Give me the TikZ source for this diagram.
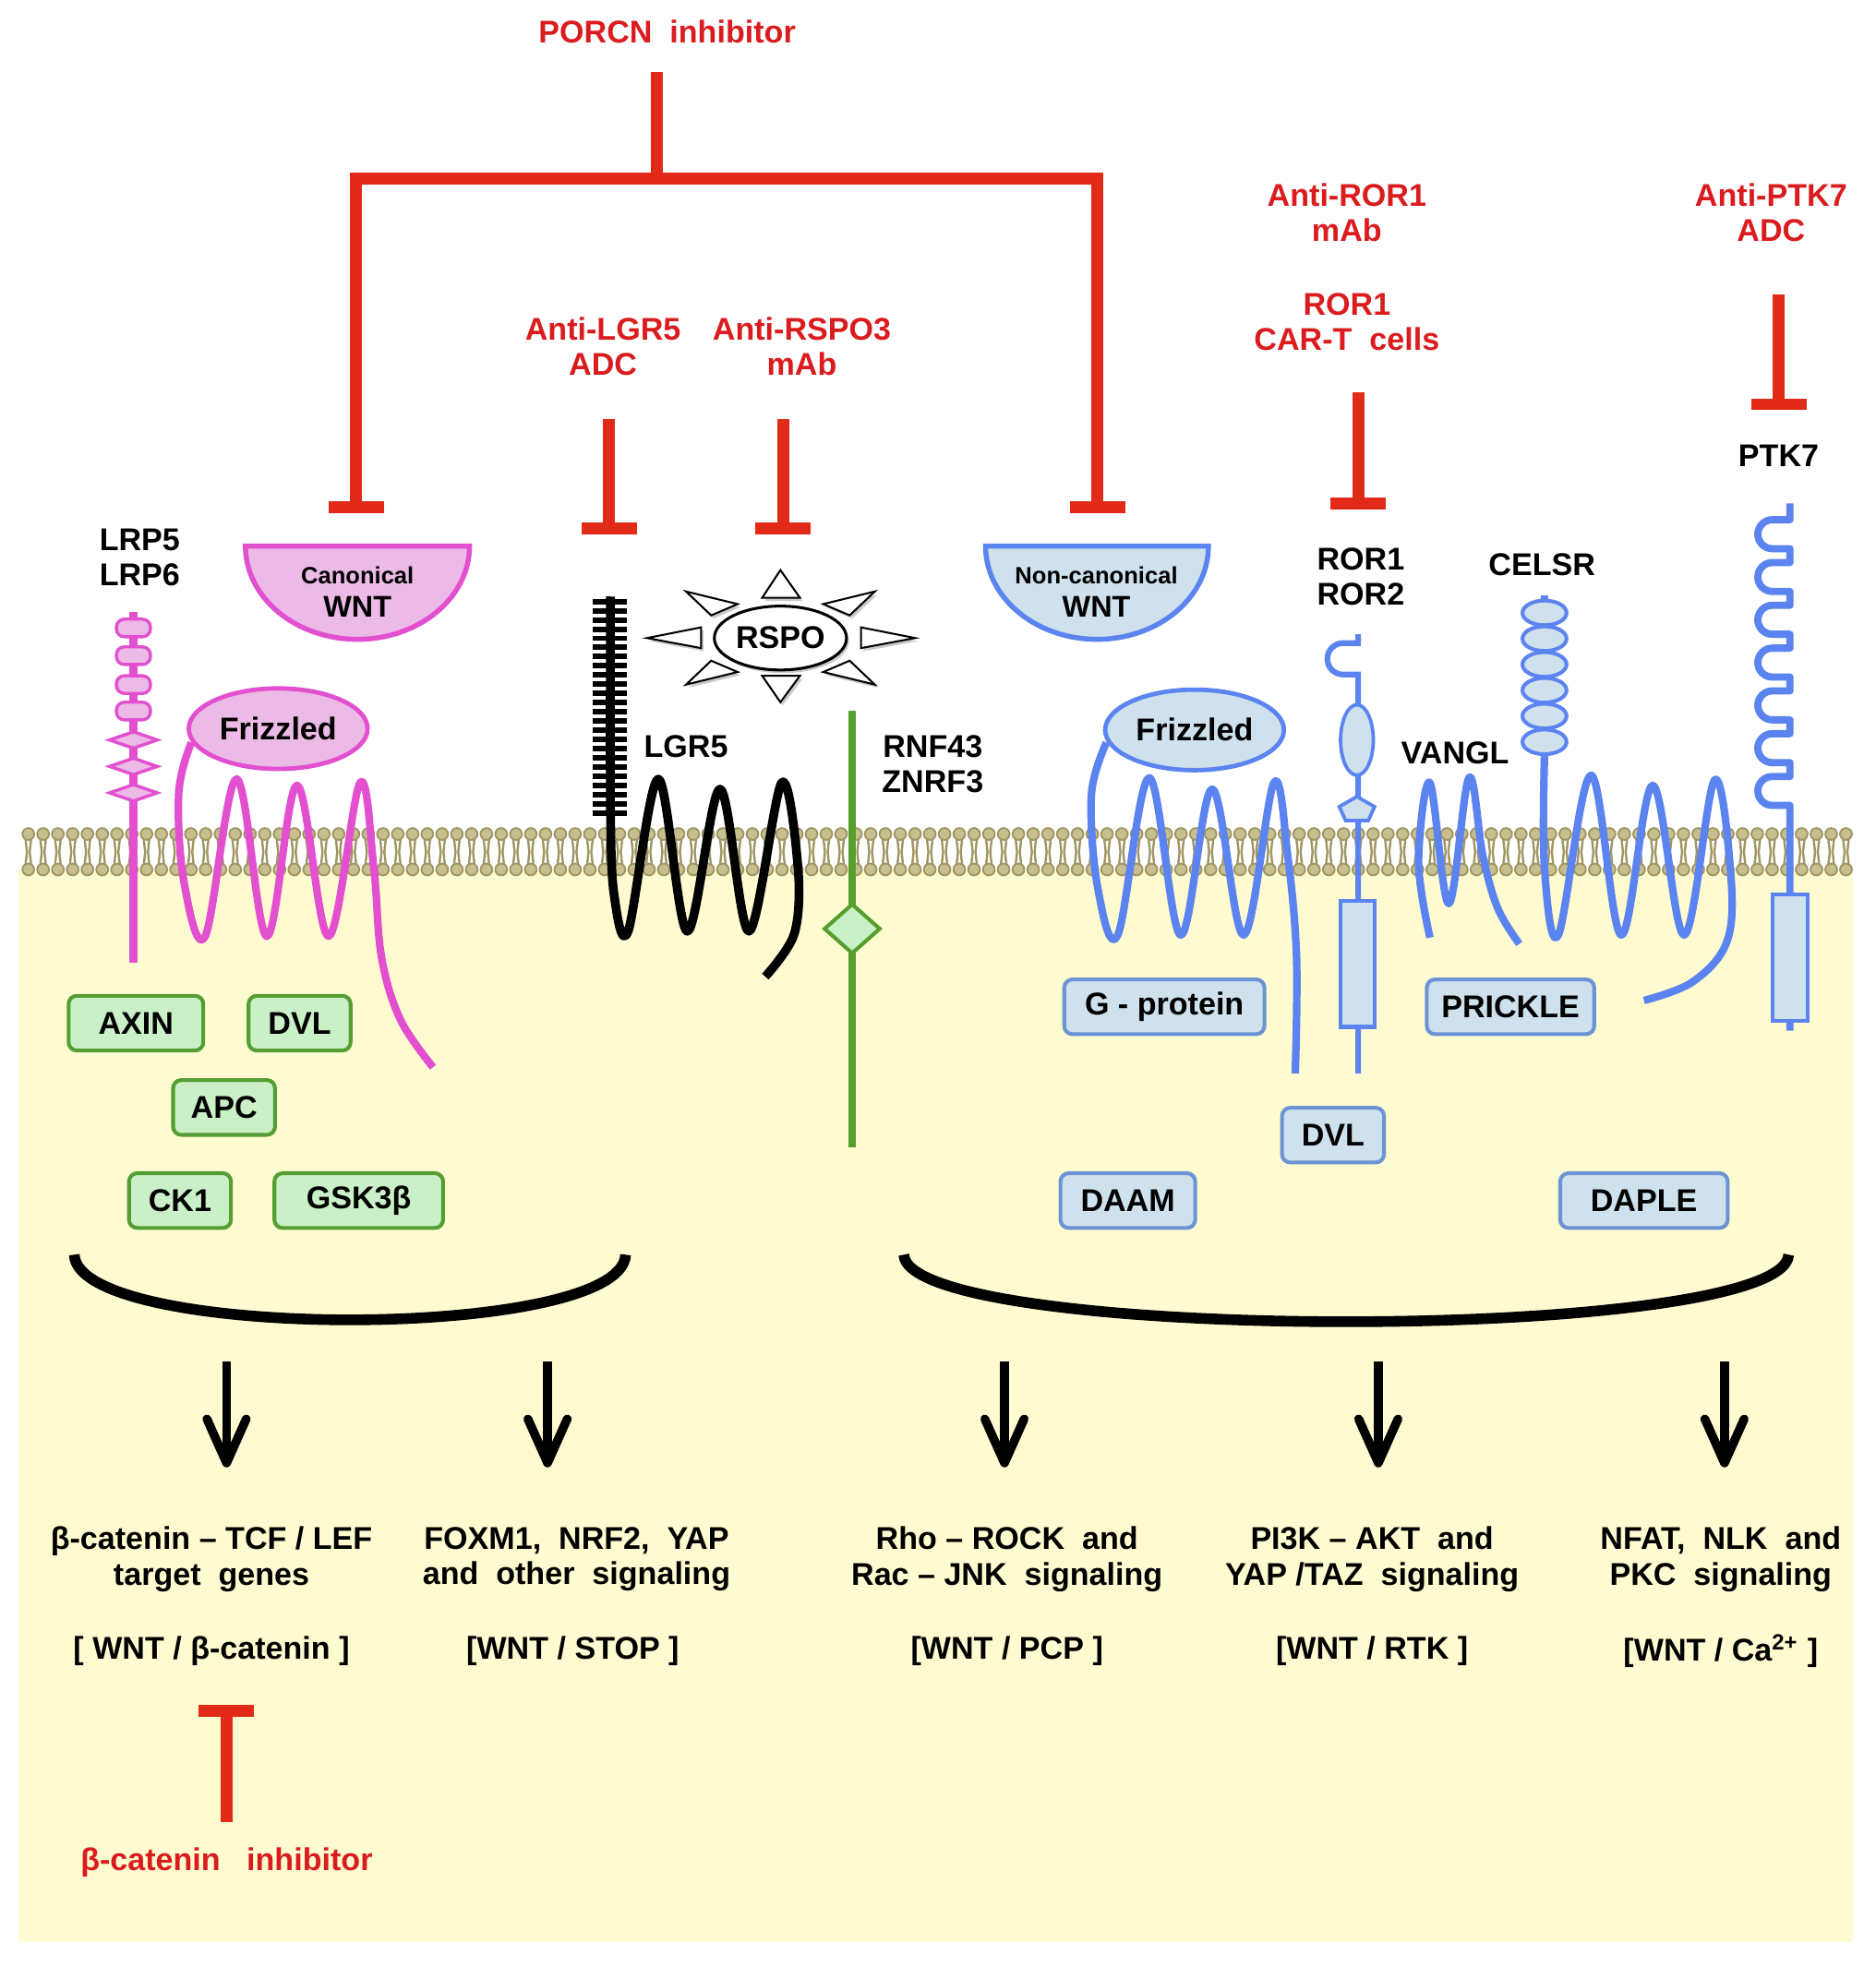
\documentclass[tikz,border=0pt]{standalone}
\usepackage{fontspec}
\setmainfont{Liberation Sans}
\usetikzlibrary{arrows.meta,shapes.geometric,shadows}

\definecolor{inhred}{RGB}{226,42,24}
\definecolor{txtred}{RGB}{218,28,30}
\definecolor{canmag}{RGB}{226,80,208}
\definecolor{canpink}{RGB}{236,186,230}
\definecolor{ncblue}{RGB}{92,132,240}
\definecolor{ncfill}{RGB}{206,225,236}
\definecolor{boxblue}{RGB}{108,148,212}
\definecolor{rnfgreen}{RGB}{86,158,46}
\definecolor{boxgreen}{RGB}{84,158,50}
\definecolor{greenfill}{RGB}{202,240,200}
\definecolor{cytoyellow}{RGB}{255,251,208}
\definecolor{lipidfill}{RGB}{200,191,142}
\definecolor{lipiddraw}{RGB}{160,150,100}

\tikzset{
  lbl/.style={font=\fontsize{10}{11.2}\selectfont\bfseries, align=center, inner sep=1pt},
  redlbl/.style={lbl, text=txtred},
  inhline/.style={draw=inhred, line width=3.8pt, line join=miter},
  inh/.style={inhline, -{Bar[width=17.6pt]}},
  canbox/.style={lbl, draw=boxgreen, fill=greenfill, line width=1.2pt, rounded corners=2.6pt,
    minimum height=17.4pt, minimum width=32.4pt},
  ncbox/.style={canbox, draw=boxblue, fill=ncfill},
  canline/.style={draw=canmag, line width=2.4pt, line join=round},
  ncline/.style={draw=ncblue, line width=2.4pt, line join=round},
  lgrline/.style={draw=black, line width=2.8pt, line join=round},
  spike/.style={draw=black, fill=white, line width=0.6pt,
    drop shadow={shadow xshift=0.8pt, shadow yshift=-1pt, fill=black!40, opacity=0.5}},
  bracket/.style={draw=black, line width=3.4pt},
  downarr/.style={draw=black, line width=2.8pt, -{Straight Barb[length=14pt, width=12.5pt, round]}},
}

\begin{document}
\begin{tikzpicture}[x=0.4pt, y=-0.4pt]
\useasboundingbox (0,0) rectangle (1490,1563);
\fill[white] (0,0) rectangle (1490,1563);
\fill[cytoyellow] (15,692) rectangle (1472,1543);

% membrane
\foreach \lx in {22.5,34.24,...,1467} {
  \draw[lipiddraw, line width=0.7pt] (\lx-2.3,666) -- (\lx-1.1,677) -- (\lx-2.3,688)
    (\lx+2.3,666) -- (\lx+1.1,677) -- (\lx+2.3,688);
  \filldraw[fill=lipidfill, draw=lipiddraw, line width=0.55pt]
    (\lx,662.7) circle[radius=4.7] (\lx,690.9) circle[radius=4.7];
}

% inhibitors
\node[redlbl] (porcn) at (530,25) {PORCN~~inhibitor};
\coordinate (porcnA) at (522,57);
\coordinate (porcnB) at (522,142);
\coordinate (canT) at (283,408);
\coordinate (ncT) at (872,408);
\draw[inhline] (porcnA) -- (porcnB);
\draw[inh] (porcnB) -| (canT);
\draw[inh] (porcnB) -| (ncT);

\node[redlbl] (antilgr) at (479,275) {Anti-LGR5\\ADC};
\coordinate (lgrA) at (484,333);
\coordinate (lgrT) at (484,425);
\draw[inh] (lgrA) -- (lgrT);

\node[redlbl] (antirspo) at (637,275) {Anti-RSPO3\\mAb};
\coordinate (rspoA) at (622,333);
\coordinate (rspoT) at (622,425);
\draw[inh] (rspoA) -- (rspoT);

\node[redlbl] (antiror) at (1070,169) {Anti-ROR1\\mAb};
\node[redlbl] (cart) at (1070,256) {ROR1\\CAR-T~~cells};
\coordinate (rorA) at (1079,312);
\coordinate (rorT) at (1079,405);
\draw[inh] (rorA) -- (rorT);

\node[redlbl] (antiptk) at (1407,169) {Anti-PTK7\\ADC};
\coordinate (ptkA) at (1413,234);
\coordinate (ptkT) at (1413,326);
\draw[inh] (ptkA) -- (ptkT);

\node[redlbl] (bcatinh) at (180,1480) {β-catenin~~~inhibitor};
\coordinate (bcatA) at (180,1448);
\coordinate (bcatT) at (180,1355);
\draw[inh] (bcatA) -- (bcatT);

% WNT ligands
\filldraw[fill=canpink, draw=canmag, line width=1.6pt]
  (195,434) -- (373,434) arc[start angle=0, end angle=180, x radius=89, y radius=74] -- cycle;
\node[lbl, font=\fontsize{7.5}{9}\selectfont\bfseries] (canname) at (284,457) {Canonical};
\node[lbl, font=\fontsize{9.5}{11}\selectfont\bfseries] (canwnt) at (284,482) {WNT};
\filldraw[fill=ncfill, draw=ncblue, line width=1.6pt]
  (783,434) -- (960,434) arc[start angle=0, end angle=180, x radius=88.5, y radius=74] -- cycle;
\node[lbl, font=\fontsize{7.5}{9}\selectfont\bfseries] (ncname) at (871,457) {Non-canonical};
\node[lbl, font=\fontsize{9.5}{11}\selectfont\bfseries] (ncwnt) at (871,482) {WNT};

% LRP5/6
\node[lbl] (lrp) at (111,443) {LRP5\\LRP6};
\draw[canmag, line width=2.4pt] (106,486) -- (106,765);
\foreach \y in {499,521,544,565}
  \filldraw[fill=canpink, draw=canmag, line width=1pt, rounded corners=2.5pt]
    (92.5,\y-7) rectangle (119.5,\y+7);
\foreach \y in {588,609,630}
  \filldraw[fill=canpink, draw=canmag, line width=1pt]
    (87,\y) -- (106,\y-6.5) -- (125,\y) -- (106,\y+6.5) -- cycle;

% canonical Frizzled
\draw[canline] plot[smooth, tension=0.6] coordinates {(152,590) (142,630) (146,700) (163,744)
  (188,619) (212,744) (236,624) (261,744) (286,622) (297,690) (303,760) (318,810) (344,848)};
\node[lbl, ellipse, draw=canmag, fill=canpink, line width=1.4pt, minimum width=56.8pt,
  minimum height=25.6pt] (fzdcan) at (221,579) {Frizzled};

% LGR5
\draw[lgrline] plot[smooth, tension=0.55] coordinates {(485,474) (485,645) (488,712) (499,740)
  (523,619) (546,740) (572,627) (595,740) (621,622) (634,690) (631,742) (608,776)};
\foreach \k in {0,...,23}
  \draw[black, line width=1.75pt] (471,478+7.3*\k) -- (498,478+7.3*\k);
\node[lbl] (lgr) at (545,593) {LGR5};

% RSPO
\draw[spike] (620,453) -- (635.5,475) -- (605.5,475) -- cycle;
\draw[spike] (620,558) -- (635.5,537) -- (605.5,537) -- cycle;
\draw[spike] (514,507) -- (557,498.5) -- (557,515) -- cycle;
\draw[spike] (727,507) -- (684,498.5) -- (684,515) -- cycle;
\draw[spike] (545,470) -- (586,480) -- (565,489) -- cycle;
\draw[spike] (695,470) -- (654,480) -- (675,489) -- cycle;
\draw[spike] (545,544) -- (586,534) -- (565,525) -- cycle;
\draw[spike] (695,544) -- (654,534) -- (675,525) -- cycle;
\node[lbl, ellipse, draw=black, fill=white, line width=0.9pt, minimum width=42pt,
  minimum height=20.3pt, inner sep=0pt,
  drop shadow={shadow xshift=0.8pt, shadow yshift=-1pt, fill=black!40, opacity=0.5}] (rspo) at (620,507) {RSPO};

% RNF43/ZNRF3
\draw[rnfgreen, line width=2.2pt] (677,565) -- (677,912);
\node[diamond, draw=rnfgreen, fill=greenfill, line width=1.2pt, minimum width=18pt,
  minimum height=16pt, inner sep=0pt] (rnfdom) at (677,738) {};
\node[lbl] (rnf) at (741,607) {RNF43\\ZNRF3};

% non-canonical Frizzled
\draw[ncline] plot[smooth, tension=0.6] coordinates {(879,590) (867,632) (872,705) (888,743)
  (913,618) (938,743) (963,627) (988,743) (1012,622) (1023,680) (1030,760) (1029,853)};
\node[lbl, ellipse, draw=ncblue, fill=ncfill, line width=1.4pt, minimum width=56.8pt,
  minimum height=25.6pt] (fzdnc) at (949,580) {Frizzled};

% ROR1/2
\node[lbl] (ror) at (1081,458) {ROR1\\ROR2};
\draw[ncblue, line width=1.8pt] (1079,504) -- (1079,511) -- (1067,511)
  arc[start angle=270, end angle=90, radius=12.5] -- (1079,536) -- (1079,853);
\filldraw[fill=ncfill, draw=ncblue, line width=1.1pt] (1078,588) ellipse[x radius=13, y radius=28];
\filldraw[fill=ncfill, draw=ncblue, line width=1.1pt]
  (1078,633) -- (1092,641) -- (1087,652) -- (1069,652) -- (1064,641) -- cycle;
\filldraw[fill=ncfill, draw=ncblue, line width=1.2pt] (1065,716) rectangle (1092,816);

% VANGL
\draw[ncline] plot[smooth, tension=0.6] coordinates {(1136,745) (1127,685) (1136,622)
  (1151,718) (1167,618) (1178,680) (1190,722) (1207,750)};
\node[lbl] (vangl) at (1156,598) {VANGL};

% CELSR
\node[lbl] (celsr) at (1225,449) {CELSR};
\draw[ncline] (1227,473) -- (1227,600);
\draw[ncline] plot[smooth, tension=0.6] coordinates {(1227,600) (1227,690) (1238,743)
  (1264,616) (1288,743) (1313,624) (1338,743) (1362,620) (1375,695) (1372,748) (1345,780) (1306,795)};
\foreach \y in {487,507.5,528,548.5,569,589.5}
  \filldraw[fill=ncfill, draw=ncblue, line width=1.2pt] (1227,\y) ellipse[x radius=17.5, y radius=9.8];

% PTK7
\node[lbl] (ptk) at (1413,362) {PTK7};
\draw[ncline, line width=2.3pt] (1422,400) \foreach \k in {0,...,6} {
    -- (1422,413+34*\k) -- (1408,413+34*\k) arc[start angle=270, end angle=90, radius=11.5]
    -- (1422,436+34*\k) } -- (1422,819);
\filldraw[fill=ncfill, draw=ncblue, line width=1.2pt] (1408,711) rectangle (1436,811);

% cytoplasmic partners
\node[canbox, minimum width=42.8pt] (axin) at (108,813) {AXIN};
\node[canbox] (dvlcan) at (238,813) {DVL};
\node[canbox] (apc) at (178,880) {APC};
\node[canbox] (ck1) at (143,954) {CK1};
\node[canbox, minimum width=53.6pt] (gsk) at (285,954) {GSK3β};
\node[ncbox, minimum width=63.6pt] (gprot) at (925,800) {G - protein};
\node[ncbox, minimum width=53.2pt] (prickle) at (1200,800) {PRICKLE};
\node[ncbox] (dvlnc) at (1059,902) {DVL};
\node[ncbox, minimum width=42.8pt] (daam) at (896,954) {DAAM};
\node[ncbox, minimum width=53.2pt] (daple) at (1306,954) {DAPLE};

% brackets
\draw[bracket] (59,997) .. controls (62,1066) and (494,1066) .. (497,997);
\draw[bracket] (718,997) .. controls (722,1068) and (1417,1068) .. (1421,997);

% outputs
\foreach \x [count=\i] in {180,435,798,1095,1370} {
  \coordinate (arrtop\i) at (\x,1082);
  \coordinate (arrtip\i) at (\x,1166);
  \draw[downarr] (arrtop\i) -- (arrtip\i);
}
\node[lbl] (out1) at (168,1239) {β-catenin – TCF / LEF\\target~~genes};
\node[lbl] (out2) at (458,1239) {FOXM1,~~NRF2,~~YAP\\and~~other~~signaling};
\node[lbl] (out3) at (800,1239) {Rho – ROCK~~and\\Rac – JNK~~signaling};
\node[lbl] (out4) at (1090,1239) {PI3K – AKT~~and\\YAP /TAZ~~signaling};
\node[lbl] (out5) at (1367,1239) {NFAT,~~NLK~~and\\PKC~~signaling};
\node[lbl] (path1) at (168,1312) {[ WNT / β-catenin ]};
\node[lbl] (path2) at (455,1312) {[WNT / STOP ]};
\node[lbl] (path3) at (800,1312) {[WNT / PCP ]};
\node[lbl] (path4) at (1090,1312) {[WNT / RTK ]};
\node[lbl] (path5) at (1367,1312) {[WNT / Ca\textsuperscript{2+} ]};
\end{tikzpicture}
\end{document}
